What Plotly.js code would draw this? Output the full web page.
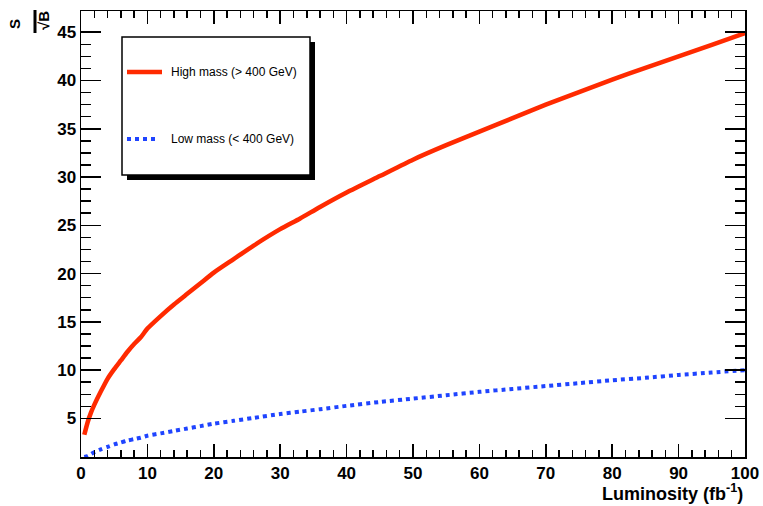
<!DOCTYPE html>
<html>
<head>
<meta charset="utf-8">
<script src="https://cdn.plot.ly/plotly-3.0.1.min.js"></script>
<style>html,body{margin:0;padding:0;background:#fff;}#chart{width:763px;height:506px;}</style>
</head>
<body>
<div id="chart"></div>
<script>
// Luminosity (fb^-1)
const luminosity = [0.5, 1, 1.5, 2, 3, 4, 5, 6, 7, 8, 9, 10, 12, 14, 16, 18, 20, 23, 26, 30, 33, 36, 40, 45, 50, 55, 60, 65, 70, 75, 80, 85, 90, 95, 100];
// S/sqrt(B), high mass (> 400 GeV)
const highMass = [3.3, 4.6, 5.6, 6.4, 7.8, 9.1, 10.1, 11.0, 11.9, 12.7, 13.4, 14.3, 15.6, 16.8, 17.9, 19.0, 20.1, 21.5, 22.9, 24.6, 25.7, 26.9, 28.4, 30.1, 31.8, 33.3, 34.7, 36.1, 37.5, 38.8, 40.1, 41.3, 42.5, 43.7, 44.9];
// S/sqrt(B), low mass (< 400 GeV)
const lowMass = [1.0, 1.1, 1.3, 1.5, 1.8, 2.05, 2.3, 2.5, 2.7, 2.85, 3.0, 3.2, 3.45, 3.7, 3.95, 4.2, 4.45, 4.75, 5.05, 5.45, 5.7, 5.95, 6.3, 6.7, 7.05, 7.4, 7.75, 8.05, 8.35, 8.65, 8.95, 9.2, 9.5, 9.75, 10.0];
const seriesNames = ["High mass (> 400 GeV)", "Low mass (< 400 GeV)"];
const xTicks = [0, 10, 20, 30, 40, 50, 60, 70, 80, 90, 100];
const yTicks = [5, 10, 15, 20, 25, 30, 35, 40, 45];

const W = 763, H = 506;
const M = {l: 81, r: 18, t: 11, b: 49};
const PW = W - M.l - M.r, PH = H - M.t - M.b;
const px = x => (x - M.l) / PW;
const py = y => (H - M.b - y) / PH;

const RED = "#ff2a00", BLUE = "#1f44ff";
const FONT = "Liberation Sans, Arial, Helvetica, sans-serif";

const yMinor = [];
for (let v = 5; v < 45; v += 1.25) if (v % 5 !== 0) yMinor.push(v);

const traces = [
  {x: luminosity, y: highMass, mode: "lines", name: seriesNames[0],
   line: {color: RED, width: 4.5, shape: "spline", smoothing: 0.6}, showlegend: false, hoverinfo: "x+y"},
  {x: luminosity, y: lowMass, mode: "lines", name: seriesNames[1],
   line: {color: BLUE, width: 4, dash: "dot", shape: "spline", smoothing: 0.6}, showlegend: false, hoverinfo: "x+y"}
];

const axisCommon = {
  showline: true, linecolor: "#000", linewidth: 1.5, mirror: "ticks",
  ticks: "inside", tickcolor: "#000", tickwidth: 1.5,
  showgrid: false, zeroline: false,
  tickfont: {family: FONT, size: 17, color: "#000", weight: "bold"}
};

const layout = {
  width: W, height: H,
  margin: M,
  paper_bgcolor: "#fff", plot_bgcolor: "#fff",
  showlegend: false,
  xaxis: Object.assign({}, axisCommon, {
    range: [0, 100], tickmode: "array", tickvals: xTicks, ticktext: xTicks.map(String),
    ticklen: 13,
    minor: {dtick: 2, tick0: 0, ticks: "inside", ticklen: 7, tickwidth: 1.5, tickcolor: "#000"}
  }),
  yaxis: Object.assign({}, axisCommon, {
    range: [1, 47.2], tickmode: "array", tickvals: yTicks, ticktext: yTicks.map(String),
    ticklen: 20,
    minor: {tickmode: "array", tickvals: yMinor, ticks: "inside", ticklen: 10, tickwidth: 1.5, tickcolor: "#000"}
  }),
  shapes: [
    // legend shadow
    {type: "rect", xref: "paper", yref: "paper", x0: px(127), x1: px(315), y0: py(42), y1: py(180),
     fillcolor: "#000", line: {width: 0}, layer: "above"},
    // legend box
    {type: "rect", xref: "paper", yref: "paper", x0: px(122), x1: px(310), y0: py(37), y1: py(175),
     fillcolor: "#fff", line: {color: "#000", width: 1.5}, layer: "above"},
    // legend samples
    {type: "line", xref: "paper", yref: "paper", x0: px(127), x1: px(162), y0: py(72), y1: py(72),
     line: {color: RED, width: 4.5}, layer: "above"},
    {type: "line", xref: "paper", yref: "paper", x0: px(127), x1: px(158), y0: py(139), y1: py(139),
     line: {color: BLUE, width: 4, dash: "dot"}, layer: "above"},
    // fraction bar of y title
    {type: "line", xref: "paper", yref: "paper", x0: px(35), x1: px(35), y0: py(10), y1: py(33),
     line: {color: "#000", width: 3}}
  ],
  annotations: [
    {xref: "paper", yref: "paper", x: px(169), y: py(72), xanchor: "left", yanchor: "middle",
     text: seriesNames[0], showarrow: false, font: {family: FONT, size: 12, color: "#000"}},
    {xref: "paper", yref: "paper", x: px(169), y: py(139), xanchor: "left", yanchor: "middle",
     text: seriesNames[1], showarrow: false, font: {family: FONT, size: 12, color: "#000"}},
    {xref: "paper", yref: "paper", x: 1, y: py(492), xanchor: "right", yanchor: "middle",
     text: "Luminosity (fb<sup>-1</sup>)", showarrow: false,
     font: {family: FONT, size: 18, color: "#000", weight: "bold"}},
    {xref: "paper", yref: "paper", x: px(15), y: py(24), xanchor: "center", yanchor: "middle",
     text: "S", textangle: -90, showarrow: false,
     font: {family: FONT, size: 15, color: "#000", weight: "bold"}},
    {xref: "paper", yref: "paper", x: px(44), y: py(21), xanchor: "center", yanchor: "middle",
     text: "√B", textangle: -90, showarrow: false,
     font: {family: FONT, size: 15, color: "#000", weight: "bold"}}
  ]
};

Plotly.newPlot("chart", traces, layout, {staticPlot: true, displayModeBar: false});
</script>
</body>
</html>
